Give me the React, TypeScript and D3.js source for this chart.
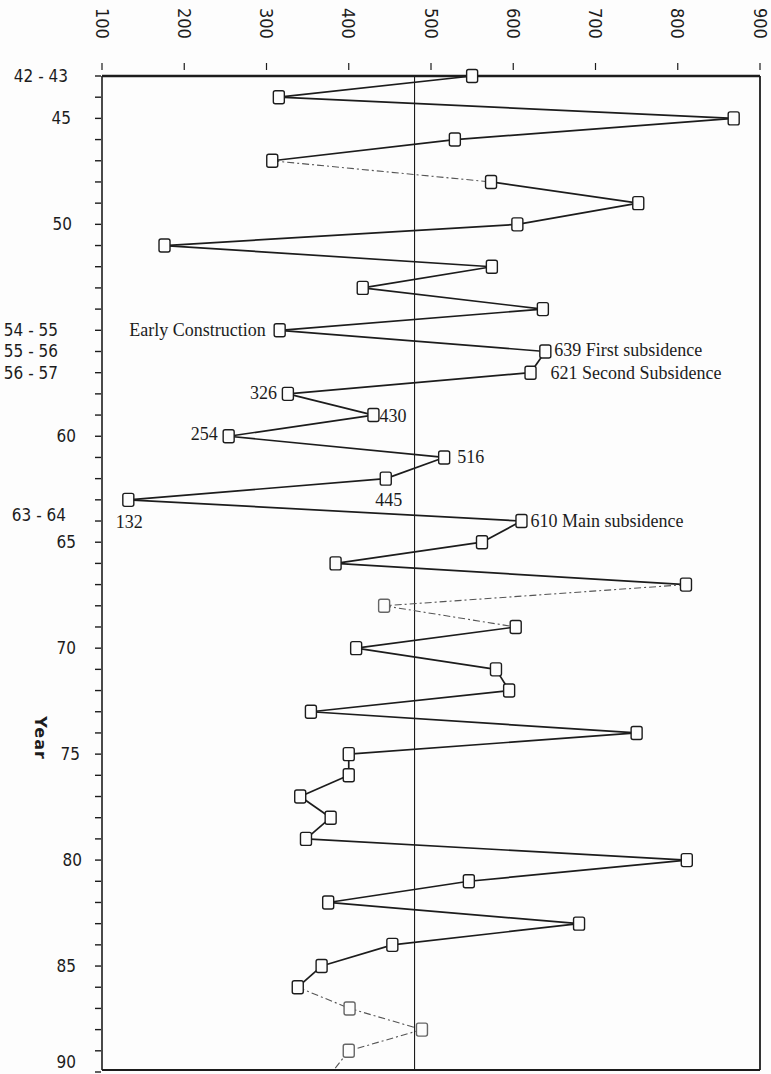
import React, { useEffect, useRef } from "react";
import * as d3 from "d3";

// value axis (drawn along the top)
const valueTicks = [100, 200, 300, 400, 500, 600, 700, 800, 900];

// year axis (down the left side), slot 0 = 42-43, one slot per year
const yearLabels = ["42 - 43", "45", "50", "54 - 55", "55 - 56", "56 - 57", "60", "63 - 64", "65", "70", "75", "80", "85", "90"];
const yearLabelSlots = [0, 2, 7, 12, 13, 14, 17, 20.7, 22, 27, 32, 37, 42, 47];

// one value per year slot
const values = [
  550, 315, 868, 529, 307, 573, 752, 605, 176, 574,
  417, 636, 316, 639, 621, 326, 430, 254, 516, 445,
  132, 610, 562, 384, 810, 443, 603, 409, 579, 595,
  354, 750, 400, 400, 341, 378, 348, 811, 546, 375,
  680, 453, 367, 338, 401, 489, 400, 380,
];

const meanValue = 480;

// annotated points
const noteSlots = [12, 13, 14, 15, 16, 17, 18, 19, 20, 21];
const noteTexts = [
  "Early Construction",
  "639 First subsidence",
  "621 Second Subsidence",
  "326",
  "430",
  "254",
  "516",
  "445",
  "132",
  "610 Main subsidence",
];

// segments that print faint / broken in the source (index of segment start)
const faintSegments = [4, 24, 25, 43, 44, 45, 46];

const W = 771;
const H = 1074;

function App() {
  const svgRef = useRef<SVGSVGElement | null>(null);

  useEffect(() => {
    const svg = d3.select(svgRef.current);
    svg.selectAll("*").remove();

    const left = 102;
    const right = 760;
    const top = 76;
    const bottom = 1070;

    const x = d3.scaleLinear().domain([100, 900]).range([left, right]);
    const y = d3.scaleLinear().domain([0, 47]).range([top, 1072]);

    const ink = "#1c1c1c";
    const sans = "'Liberation Sans Narrow', 'DejaVu Sans Condensed', 'Liberation Sans', sans-serif";
    const serif = "'Liberation Serif', 'DejaVu Serif', serif";

    svg.append("rect").attr("width", W).attr("height", H).attr("fill", "#fdfdfd");

    // clip for the data
    svg
      .append("defs")
      .append("clipPath")
      .attr("id", "plot-clip")
      .append("rect")
      .attr("x", left)
      .attr("y", top - 10)
      .attr("width", right - left)
      .attr("height", bottom - top + 10);

    // top value ticks + rotated labels
    const topAxis = svg.append("g");
    topAxis
      .selectAll("line")
      .data(valueTicks)
      .enter()
      .append("line")
      .attr("x1", (d) => x(d))
      .attr("x2", (d) => x(d))
      .attr("y1", 63)
      .attr("y2", 70)
      .attr("stroke", ink)
      .attr("stroke-width", 1.2);
    topAxis
      .selectAll("text")
      .data(valueTicks)
      .enter()
      .append("text")
      .attr("transform", (d) => `translate(${x(d)},8) rotate(90)`)
      .attr("text-anchor", "start")
      .attr("dominant-baseline", "central")
      .attr("font-family", sans)
      .attr("font-size", 18)
      .attr("fill", ink)
      .text((d) => d);

    // left year ticks
    const leftAxis = svg.append("g");
    leftAxis
      .selectAll("line")
      .data(d3.range(0, 48))
      .enter()
      .append("line")
      .attr("x1", left - 7)
      .attr("x2", left - 1)
      .attr("y1", (d) => y(d))
      .attr("y2", (d) => y(d))
      .attr("stroke", ink)
      .attr("stroke-width", 1.4);

    const labelShift: Record<string, number> = {
      "42 - 43": -8,
      "45": -5,
      "50": -4,
      "54 - 55": -18,
      "55 - 56": -18,
      "56 - 57": -18,
      "63 - 64": -10,
      "80": 6,
      "75": 4,
    };
    // last label sits on the bottom edge; lift it so it stays readable
    const labelLift: Record<string, number> = { "90": -10 };
    leftAxis
      .selectAll("text")
      .data(yearLabels)
      .enter()
      .append("text")
      .attr("x", (d) => 76 + (labelShift[d] || 0))
      .attr("y", (d, i) => y(yearLabelSlots[i]) + (labelLift[d] || 0))
      .attr("text-anchor", "end")
      .attr("dominant-baseline", "central")
      .attr("font-family", sans)
      .attr("font-size", 17)
      .attr("fill", ink)
      .text((d) => d);

    // axis title
    svg
      .append("text")
      .attr("transform", "translate(40,738) rotate(90)")
      .attr("text-anchor", "middle")
      .attr("dominant-baseline", "central")
      .attr("font-family", "'DejaVu Sans', sans-serif")
      .attr("font-weight", "bold")
      .attr("font-size", 16)
      .attr("letter-spacing", 1)
      .attr("fill", ink)
      .text("Year");

    // frame
    svg.append("line").attr("x1", left).attr("x2", right).attr("y1", top).attr("y2", top).attr("stroke", ink).attr("stroke-width", 2.4);
    svg.append("line").attr("x1", left).attr("x2", right).attr("y1", bottom).attr("y2", bottom).attr("stroke", ink).attr("stroke-width", 2);
    svg.append("line").attr("x1", left).attr("x2", left).attr("y1", top).attr("y2", bottom).attr("stroke", ink).attr("stroke-width", 1.6);
    svg.append("line").attr("x1", right).attr("x2", right).attr("y1", top).attr("y2", bottom).attr("stroke", ink).attr("stroke-width", 1.8);

    // mean line
    svg
      .append("line")
      .attr("x1", x(meanValue))
      .attr("x2", x(meanValue))
      .attr("y1", top)
      .attr("y2", bottom)
      .attr("stroke", ink)
      .attr("stroke-width", 1.1);

    // data line, segment by segment
    const plot = svg.append("g").attr("clip-path", "url(#plot-clip)");
    const segs = d3.range(values.length - 1);
    plot
      .selectAll("line.seg")
      .data(segs)
      .enter()
      .append("line")
      .attr("class", "seg")
      .attr("x1", (i) => x(values[i]))
      .attr("y1", (i) => y(i))
      .attr("x2", (i) => x(values[i + 1]))
      .attr("y2", (i) => y(i + 1))
      .attr("stroke", (i) => (faintSegments.includes(i) ? "#555" : ink))
      .attr("stroke-width", (i) => (faintSegments.includes(i) ? 1.1 : 1.7))
      .attr("stroke-dasharray", (i) => (faintSegments.includes(i) ? "7 3 2 3" : null));

    // square markers
    plot
      .selectAll("rect.mark")
      .data(values.slice(0, values.length - 1))
      .enter()
      .append("rect")
      .attr("class", "mark")
      .attr("x", (d) => x(d) - 5.5)
      .attr("y", (d, i) => y(i) - 6.5)
      .attr("width", 11)
      .attr("height", 13)
      .attr("rx", 2)
      .attr("fill", "#fdfdfd")
      .attr("stroke", (d, i) => (faintSegments.includes(i) && faintSegments.includes(i - 1) ? "#666" : ink))
      .attr("stroke-width", 1.4);

    // annotations
    const noteLayout: Record<number, { dx: number; dy: number; anchor: string }> = {
      12: { dx: -14, dy: 0, anchor: "end" },
      13: { dx: 9, dy: -1, anchor: "start" },
      14: { dx: 20, dy: 0, anchor: "start" },
      15: { dx: -11, dy: -1, anchor: "end" },
      16: { dx: 6, dy: 1, anchor: "start" },
      17: { dx: -11, dy: -2, anchor: "end" },
      18: { dx: 13, dy: 0, anchor: "start" },
      19: { dx: 3, dy: 21, anchor: "middle" },
      20: { dx: 1, dy: 22, anchor: "middle" },
      21: { dx: 9, dy: 0, anchor: "start" },
    };
    svg
      .append("g")
      .selectAll("text")
      .data(noteTexts)
      .enter()
      .append("text")
      .attr("x", (d, i) => x(values[noteSlots[i]]) + noteLayout[noteSlots[i]].dx)
      .attr("y", (d, i) => y(noteSlots[i]) + noteLayout[noteSlots[i]].dy)
      .attr("text-anchor", (d, i) => noteLayout[noteSlots[i]].anchor)
      .attr("dominant-baseline", "central")
      .attr("font-family", serif)
      .attr("font-size", 18)
      .attr("fill", ink)
      .text((d) => d);
  }, []);

  return (
    <svg
      ref={svgRef}
      width={W}
      height={H}
      style={{ position: "absolute", left: 0, top: 0, display: "block" }}
    />
  );
}

export default App;
